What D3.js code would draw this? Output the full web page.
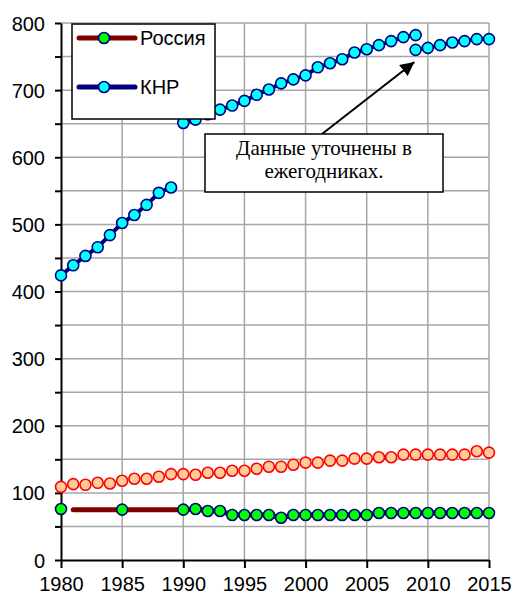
<!DOCTYPE html>
<html>
<head>
<meta charset="utf-8">
<script src="https://cdn.jsdelivr.net/npm/d3@7"></script>
<style>
  body { margin: 0; background: #fff; }
  svg { display: block; }
</style>
</head>
<body>
<svg id="chart" width="514" height="596"></svg>
<script>
// КНР: три куска ряда (до 1989, 1990-2009, уточнённые 2009-2015)
const cnYears1 = [1980, 1981, 1982, 1983, 1984, 1985, 1986, 1987, 1988, 1989];
const cnVals1  = [424, 439, 453, 466, 484, 502, 514, 529, 547, 555];
const cnYears2 = [1990, 1991, 1992, 1993, 1994, 1995, 1996, 1997, 1998, 1999,
                  2000, 2001, 2002, 2003, 2004, 2005, 2006, 2007, 2008, 2009];
const cnVals2  = [651, 656, 664, 671, 677, 684, 693, 701, 710, 716,
                  722, 734, 740, 746, 756, 761, 767, 773, 779, 782];
const cnYears3 = [2009, 2010, 2011, 2012, 2013, 2014, 2015];
const cnVals3  = [760, 763, 767, 771, 773, 776, 776];

// Россия
const ruYears = [1980, 1981, 1985, 1990, 1991, 1992, 1993, 1994, 1995, 1996, 1997,
                 1998, 1999, 2000, 2001, 2002, 2003, 2004, 2005, 2006, 2007,
                 2008, 2009, 2010, 2011, 2012, 2013, 2014, 2015];
const ruVals  = [76, 75, 75, 75, 76, 73, 73, 67, 67, 67, 67,
                 63, 67, 67, 67, 67, 67, 67, 67, 70, 70,
                 70, 70, 70, 70, 70, 70, 70, 70];
const ruNoLine = [1980];    // точка без линии
const ruNoMarker = [1981];  // начало линии без маркера

// третий ряд (без подписи в легенде)
const thirdYears = [1980, 1981, 1982, 1983, 1984, 1985, 1986, 1987, 1988, 1989,
                    1990, 1991, 1992, 1993, 1994, 1995, 1996, 1997, 1998, 1999,
                    2000, 2001, 2002, 2003, 2004, 2005, 2006, 2007, 2008, 2009,
                    2010, 2011, 2012, 2013, 2014, 2015];
const thirdVals  = [109, 113, 112, 115, 114, 118, 121, 121, 124, 128,
                    128, 127, 130, 130, 133, 133, 136, 139, 139, 142,
                    145, 145, 148, 148, 151, 151, 153, 153, 157, 157,
                    157, 157, 157, 157, 162, 160];

const xTicks = [1980, 1985, 1990, 1995, 2000, 2005, 2010, 2015];
const yTicks = [0, 50, 100, 150, 200, 250, 300, 350, 400, 450, 500, 550, 600, 650, 700, 750, 800];

const margin = {top: 23, right: 25, bottom: 36, left: 61},
      width = 514 - margin.left - margin.right,
      height = 596 - margin.top - margin.bottom;

const svg = d3.select("#chart");
const g = svg.append("g").attr("transform", `translate(${margin.left},${margin.top})`);

const x = d3.scaleLinear().domain([1980, 2015]).range([0, width]);
const y = d3.scaleLinear().domain([0, 800]).range([height, 0]);

const gridColor = "#a6a6a6";
const sans = "'Liberation Sans', Arial, sans-serif";

// сетка
g.append("g").selectAll("line").data(yTicks.filter(d => d > 0)).enter()
    .append("line")
    .attr("x1", 0).attr("x2", width)
    .attr("y1", d => y(d)).attr("y2", d => y(d))
    .attr("stroke", gridColor).attr("stroke-width", 1.5);
g.append("g").selectAll("line").data(xTicks.filter(d => d > 1980)).enter()
    .append("line")
    .attr("x1", d => x(d)).attr("x2", d => x(d))
    .attr("y1", 0).attr("y2", height)
    .attr("stroke", gridColor).attr("stroke-width", 1.5);

// оси
const yAxis = g.append("g")
    .call(d3.axisLeft(y).tickValues(yTicks).tickSize(6).tickSizeOuter(0).tickPadding(10)
        .tickFormat(d => d % 100 === 0 ? d : ""));
const xAxis = g.append("g")
    .attr("transform", `translate(0,${height})`)
    .call(d3.axisBottom(x).tickValues(xTicks).tickSize(8).tickSizeOuter(0).tickPadding(8)
        .tickFormat(d3.format("d")));
[xAxis, yAxis].forEach(a => {
    a.select(".domain").attr("stroke", "#000").attr("stroke-width", 2);
    a.selectAll(".tick line").attr("stroke", "#000").attr("stroke-width", 2);
    a.selectAll("text").attr("font-family", sans).attr("font-size", 20).attr("fill", "#000");
});
yAxis.selectAll("text").attr("dy", "0.35em");
xAxis.selectAll("text").attr("dy", "0.75em");

const line = d3.line().x(d => x(d[0])).y(d => y(d[1]));

// третий ряд — только маркеры
g.append("g").selectAll("circle")
    .data(d3.zip(thirdYears, thirdVals)).enter()
    .append("circle")
    .attr("cx", d => x(d[0])).attr("cy", d => y(d[1])).attr("r", 5.5)
    .attr("fill", "#ffcc99").attr("stroke", "#ff0000").attr("stroke-width", 1.6);

// Россия
const ruData = d3.zip(ruYears, ruVals);
g.append("path")
    .datum(ruData.filter(d => !ruNoLine.includes(d[0])))
    .attr("fill", "none").attr("stroke", "#800000").attr("stroke-width", 5)
    .attr("stroke-linecap", "round").attr("stroke-linejoin", "round")
    .attr("d", line);
g.append("g").selectAll("circle")
    .data(ruData.filter(d => !ruNoMarker.includes(d[0]))).enter()
    .append("circle")
    .attr("cx", d => x(d[0])).attr("cy", d => y(d[1])).attr("r", 5.5)
    .attr("fill", "#00ff00").attr("stroke", "#000080").attr("stroke-width", 1.6);

// КНР
[[cnYears1, cnVals1], [cnYears2, cnVals2], [cnYears3, cnVals3]].forEach(([ys, vs]) => {
    const data = d3.zip(ys, vs);
    g.append("path")
        .datum(data)
        .attr("fill", "none").attr("stroke", "#000080").attr("stroke-width", 4)
        .attr("stroke-linejoin", "round")
        .attr("d", line);
    g.append("g").selectAll("circle")
        .data(data).enter()
        .append("circle")
        .attr("cx", d => x(d[0])).attr("cy", d => y(d[1])).attr("r", 5.5)
        .attr("fill", "#00ffff").attr("stroke", "#000080").attr("stroke-width", 1.6);
});

// легенда
const legend = svg.append("g").attr("transform", "translate(72,24)");
legend.append("rect")
    .attr("width", 143).attr("height", 95)
    .attr("fill", "#fff").attr("stroke", "#000").attr("stroke-width", 1.5);
const legendItems = [
    {name: "Россия", line: "#800000", fill: "#00ff00", y: 14},
    {name: "КНР", line: "#000080", fill: "#00ffff", y: 63}
];
legendItems.forEach(d => {
    legend.append("line")
        .attr("x1", 7).attr("x2", 63).attr("y1", d.y).attr("y2", d.y)
        .attr("stroke", d.line).attr("stroke-width", 5).attr("stroke-linecap", "round");
    legend.append("circle")
        .attr("cx", 32).attr("cy", d.y).attr("r", 5.5)
        .attr("fill", d.fill).attr("stroke", "#000080").attr("stroke-width", 1.6);
    legend.append("text")
        .attr("x", 68).attr("y", d.y).attr("dy", "0.35em")
        .attr("font-family", sans).attr("font-size", 20)
        .text(d.name);
});

// выноска со стрелкой
svg.append("defs").append("marker")
    .attr("id", "arrow").attr("viewBox", "0 0 10 10")
    .attr("refX", 10).attr("refY", 5)
    .attr("markerWidth", 7).attr("markerHeight", 7)
    .attr("orient", "auto-start-reverse")
    .append("path").attr("d", "M0,0 L10,5 L0,10 z").attr("fill", "#000");

g.append("line")
    .attr("x1", 322 - margin.left).attr("y1", 134 - margin.top)
    .attr("x2", x(2008.9)).attr("y2", y(742))
    .attr("stroke", "#000").attr("stroke-width", 2)
    .attr("marker-end", "url(#arrow)");

const note = svg.append("g").attr("transform", "translate(205,134)");
note.append("rect")
    .attr("width", 238).attr("height", 58)
    .attr("fill", "#fff").attr("stroke", "#000").attr("stroke-width", 1.5);
["Данные уточнены в", "ежегодниках."].forEach((t, i) => {
    note.append("text")
        .attr("x", 119).attr("y", 21 + i * 23)
        .attr("text-anchor", "middle")
        .attr("font-family", "'Liberation Serif', 'Times New Roman', serif")
        .attr("font-size", 21)
        .text(t);
});
</script>
</body>
</html>
